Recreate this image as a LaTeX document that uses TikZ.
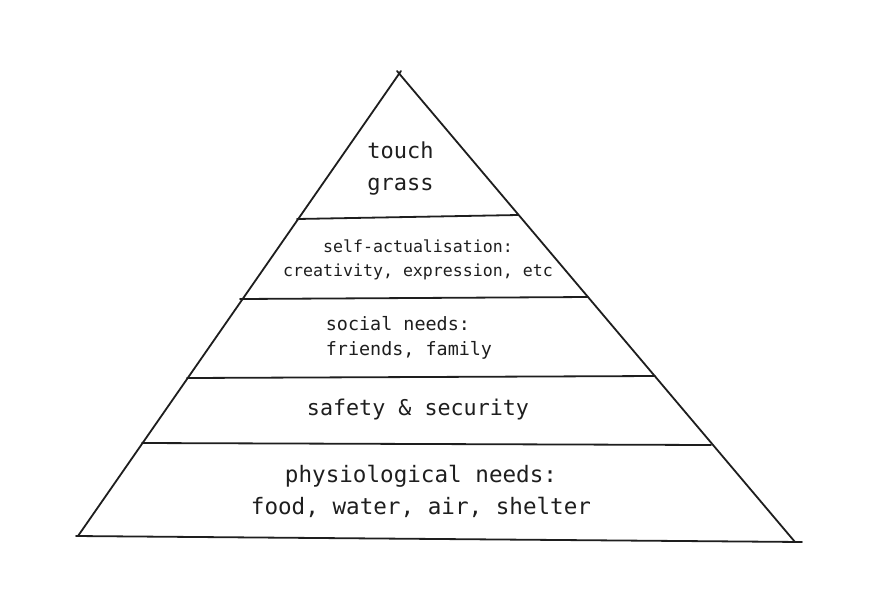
\documentclass[tikz,border=0pt]{standalone}
\usepackage{fontspec}
\setmonofont{DejaVu Sans Mono}
\definecolor{ink}{HTML}{1E1E1E}
\tikzset{
  edge/.style={draw=ink, line width=1.8pt, line cap=round},
  lbl/.style={text=ink, font=\ttfamily, inner sep=0pt, align=center},
}
\begin{document}
\begin{tikzpicture}[x=1pt, y=-1pt]
\useasboundingbox[fill=white] (0,0) rectangle (869,606);
% outline
\coordinate (apexL) at (401,71);
\coordinate (apexR) at (397,71);
\coordinate (bl) at (78,536);
\coordinate (blx) at (76,536);
\coordinate (br) at (795,542);
\coordinate (brx) at (802,542);
\draw[edge] (apexL) -- (bl);
\draw[edge] (apexR) -- (br);
\draw[edge] (blx) -- (brx);
% dividers
\coordinate (d1l) at (297,219); \coordinate (d1r) at (518,215);
\coordinate (d2l) at (240,299); \coordinate (d2r) at (588,297);
\coordinate (d3l) at (187,378); \coordinate (d3r) at (655,376);
\coordinate (d4l) at (142,443); \coordinate (d4r) at (711,445);
\draw[edge] (d1l) -- (d1r);
\draw[edge] (d2l) -- (d2r);
\draw[edge] (d3l) -- (d3r);
\draw[edge] (d4l) -- (d4r);
% labels
\node[lbl, font=\ttfamily\fontsize{22}{32}\selectfont, align=left] (t1) at (400.5,168) {touch\\grass};
\node[lbl, font=\ttfamily\fontsize{16.6}{24}\selectfont] (t2) at (418,260) {self-actualisation:\\creativity, expression, etc};
\node[lbl, font=\ttfamily\fontsize{18.4}{25}\selectfont, align=left] (t3) at (409,338) {social needs:\\friends, family};
\node[lbl, font=\ttfamily\fontsize{21.7}{32}\selectfont] (t4) at (418,410) {safety \& security};
\node[lbl, font=\ttfamily\fontsize{22.6}{32}\selectfont] (t5) at (421,491) {physiological needs:\\food, water, air, shelter};
\end{tikzpicture}
\end{document}
